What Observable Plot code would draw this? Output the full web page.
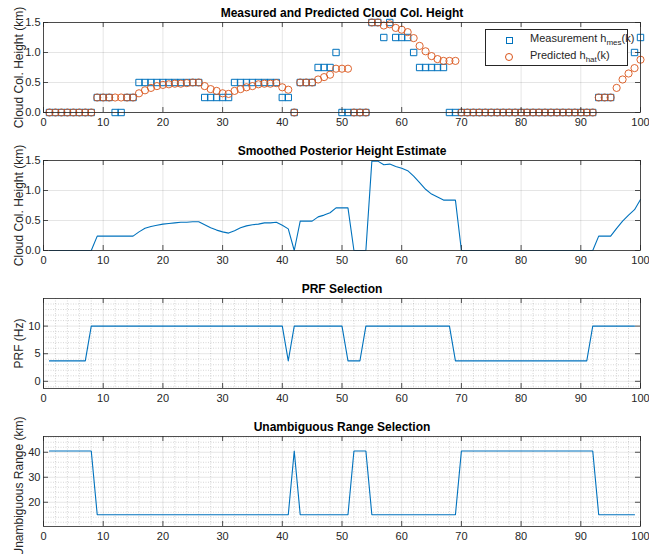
<!DOCTYPE html>
<html>
<head>
<meta charset="utf-8">
<script src="https://cdn.jsdelivr.net/npm/d3@7"></script>
<script src="https://cdn.jsdelivr.net/npm/@observablehq/plot@0.6"></script>
<style>
  body { margin: 0; background: #fff; font-family: "Liberation Sans", Arial, Helvetica, sans-serif; }
  #wrap { position: relative; width: 649px; height: 554px; overflow: hidden; background: #fff; }
  .panel { position: absolute; left: 0; }
  .panel svg { overflow: visible; background: transparent; }
  #legend { position: absolute; left: 485px; top: 29px; width: 143px; height: 37px; border: 0.8px solid #262626; background: #fff; box-sizing: border-box; color: #262626; font-size: 11px; }
  #legend .mk { position: absolute; box-sizing: border-box; }
  #legend .tx { position: absolute; white-space: nowrap; line-height: 13px; }
  #legend sub { font-size: 8px; vertical-align: -3px; line-height: 0; }
</style>
</head>
<body>
<div id="wrap"></div>
<script>
// ---------- data ----------
const k = [1,2,3,4,5,6,7,8,9,10,11,12,13,14,15,16,17,18,19,20,21,22,23,24,25,26,27,28,29,30,31,32,33,34,35,36,37,38,39,40,41,42,43,44,45,46,47,48,49,50,51,52,53,54,55,56,57,58,59,60,61,62,63,64,65,66,67,68,69,70,71,72,73,74,75,76,77,78,79,80,81,82,83,84,85,86,87,88,89,90,91,92,93,94,95,96,97,98,99,100];

const hMes = [
  0,0,0,0,0,0,0,0,0.25,0.25,
  0.25,0,0,0.25,0.25,0.5,0.5,0.5,0.5,0.5,
  0.5,0.5,0.5,0.5,0.5,0.5,0.25,0.25,0.25,0.25,
  0.25,0.5,0.5,0.5,0.5,0.5,0.5,0.5,0.5,0.25,
  0.25,0,0.5,0.5,0.5,0.75,0.75,0.75,1,0,
  0,0,0,0,1.5,1.5,1.25,1.5,1.25,1.25,
  1.25,1,0.75,0.75,0.75,0.75,0.75,0,0,0,
  0,0,0,0,0,0,0,0,0,0,
  0,0,0,0,0,0,0,0,0,0,
  0,0,0.25,0.25,0.25,null,null,null,1,1.25
];

const hHat = [
  0,0,0,0,0,0,0,0,0.25,0.25,
  0.25,0.25,0.25,0.25,0.25,0.32,0.37,0.41,0.44,0.46,
  0.47,0.48,0.48,0.49,0.5,0.5,0.44,0.39,0.36,0.32,
  0.31,0.36,0.39,0.42,0.44,0.47,0.48,0.48,0.49,0.42,
  0.38,0,0.5,0.5,0.5,0.55,0.59,0.63,0.73,0.73,
  0.73,0,0,0,1.5,1.5,1.45,1.47,1.41,1.38,
  1.34,1.24,1.11,1.02,0.94,0.89,0.86,0.86,0.86,0,
  0,0,0,0,0,0,0,0,0,0,
  0,0,0,0,0,0,0,0,0,0,
  0,0,0.25,0.25,0.25,0.41,0.55,0.65,0.74,0.88
];

const hSmooth = [
  0,0,0,0,0,0,0,0,0.24,0.24,
  0.24,0.24,0.24,0.24,0.24,0.31,0.37,0.4,0.42,0.44,
  0.45,0.46,0.47,0.47,0.48,0.48,0.43,0.38,0.34,0.31,
  0.29,0.33,0.38,0.41,0.43,0.44,0.46,0.46,0.47,0.42,
  0.36,0,0.49,0.49,0.49,0.56,0.59,0.63,0.71,0.71,
  0.71,0,0,0,1.49,1.49,1.43,1.44,1.4,1.37,
  1.33,1.24,1.13,1.02,0.94,0.89,0.84,0.84,0.84,0,
  0,0,0,0,0,0,0,0,0,0,
  0,0,0,0,0,0,0,0,0,0,
  0,0,0.24,0.24,0.24,0.37,0.49,0.59,0.68,0.85
];

const prf = [
  3.7,3.7,3.7,3.7,3.7,3.7,3.7,10,10,10,
  10,10,10,10,10,10,10,10,10,10,
  10,10,10,10,10,10,10,10,10,10,
  10,10,10,10,10,10,10,10,10,10,
  3.7,10,10,10,10,10,10,10,10,10,
  3.7,3.7,3.7,10,10,10,10,10,10,10,
  10,10,10,10,10,10,10,10,3.7,3.7,
  3.7,3.7,3.7,3.7,3.7,3.7,3.7,3.7,3.7,3.7,
  3.7,3.7,3.7,3.7,3.7,3.7,3.7,3.7,3.7,3.7,
  3.7,10,10,10,10,10,10,10,10
];

const rangeKm = [
  40.5,40.5,40.5,40.5,40.5,40.5,40.5,40.5,15,15,
  15,15,15,15,15,15,15,15,15,15,
  15,15,15,15,15,15,15,15,15,15,
  15,15,15,15,15,15,15,15,15,15,
  15,40.5,15,15,15,15,15,15,15,15,
  15,40.5,40.5,40.5,15,15,15,15,15,15,
  15,15,15,15,15,15,15,15,15,40.5,
  40.5,40.5,40.5,40.5,40.5,40.5,40.5,40.5,40.5,40.5,
  40.5,40.5,40.5,40.5,40.5,40.5,40.5,40.5,40.5,40.5,
  40.5,40.5,15,15,15,15,15,15,15
];

const titles = ["Measured and Predicted Cloud Col. Height", "Smoothed Posterior Height Estimate", "PRF Selection", "Unambiguous Range Selection"];
const yLabels = ["Cloud Col. Height (km)", "Cloud Col. Height (km)", "PRF (Hz)", "Unambiguous Range (km)"];
const legendNames = [["Measurement h", "mes", "(k)"], ["Predicted h", "hat", "(k)"]];

const xTicks = [0,10,20,30,40,50,60,70,80,90,100];
const xMinor = [2,4,6,8,12,14,16,18,22,24,26,28,32,34,36,38,42,44,46,48,52,54,56,58,62,64,66,68,72,74,76,78,82,84,86,88,92,94,96,98];
const hTicks = [0,0.5,1,1.5];
const prfTicks = [0,5,10];
const prfMinor = [-1,1,2,3,4,6,7,8,9,11,12,13,14];
const rTicks = [20,30,40];
const rMinor = [12,14,16,18,22,24,26,28,32,34,36,38,42,44,46];

// ---------- tables ----------
const rowsTop = k.map((kk, i) => ({k: kk, hMes: hMes[i], hHat: hHat[i], hSmooth: hSmooth[i]}));
const rowsSel = prf.map((p, i) => ({k: k[i], prf: p, range: rangeKm[i]}));

// ---------- styling ----------
const BLUE = "#0072BD", ORANGE = "#D95319", AX = "#262626";
const W = 649, ML = 43, MR = 9, MT = 22, MB = 20, PH = 90, PW = W - ML - MR;
const FONT = "'Liberation Sans', Arial, Helvetica, sans-serif";

function panel(top, idx, yDomain, yTicks, yMinor, dataMarks, minorGrid, labelShift) {
  const marks = [];
  if (minorGrid) {
    marks.push(Plot.gridX(xMinor, {stroke: "#000", strokeOpacity: 0.28, strokeWidth: 0.6, strokeDasharray: "1,1.5"}));
    marks.push(Plot.gridY(yMinor, {stroke: "#000", strokeOpacity: 0.28, strokeWidth: 0.6, strokeDasharray: "1,1.5"}));
  }
  marks.push(Plot.gridX(xTicks, {stroke: "#000", strokeOpacity: 0.13, strokeWidth: 0.8}));
  marks.push(Plot.gridY(yTicks, {stroke: "#000", strokeOpacity: 0.13, strokeWidth: 0.8}));
  marks.push(...dataMarks);
  marks.push(Plot.frame({stroke: AX, strokeWidth: 0.8}));
  marks.push(Plot.ruleX(xTicks, {x: d => d, insetTop: PH - 5, stroke: AX, strokeWidth: 0.8}));
  marks.push(Plot.ruleX(xTicks, {x: d => d, insetBottom: PH - 5, stroke: AX, strokeWidth: 0.8}));
  marks.push(Plot.ruleY(yTicks, {y: d => d, insetRight: PW - 5, stroke: AX, strokeWidth: 0.8}));
  marks.push(Plot.ruleY(yTicks, {y: d => d, insetLeft: PW - 5, stroke: AX, strokeWidth: 0.8}));
  marks.push(Plot.axisX(xTicks, {anchor: "bottom", tickSize: 0, tickPadding: 6, fontSize: 11, label: null, fill: AX}));
  marks.push(Plot.axisY(yTicks, {anchor: "left", tickSize: 0, tickPadding: 3, fontSize: 11, label: null, fill: AX}));
  marks.push(Plot.text([titles[idx]], {frameAnchor: "top", dy: -9, lineAnchor: "middle", textAnchor: "middle", fontWeight: "bold", fontSize: 12, fill: "#000"}));
  marks.push(Plot.text([yLabels[idx]], {frameAnchor: "left", rotate: -90, dx: -24, dy: labelShift || 0, textAnchor: "middle", lineAnchor: "middle", fontSize: 12, fill: AX}));

  const svg = Plot.plot({
    width: W, height: MT + PH + MB,
    marginTop: MT, marginBottom: MB, marginLeft: ML, marginRight: MR,
    style: {fontFamily: FONT, fontSize: "11px", color: AX, background: "transparent", overflow: "visible"},
    x: {domain: [0, 100]},
    y: {domain: yDomain},
    marks
  });
  const div = document.createElement("div");
  div.className = "panel";
  div.style.top = (top - MT) + "px";
  div.appendChild(svg);
  document.getElementById("wrap").appendChild(div);
}

// Panel 1: measured and predicted
panel(22, 0, [0, 1.5], hTicks, null, [
  Plot.dot(rowsTop.filter(d => d.hMes != null), {x: "k", y: "hMes", symbol: "square", r: 3.6, stroke: BLUE, strokeWidth: 1, fill: "none"}),
  Plot.dot(rowsTop, {x: "k", y: "hHat", symbol: "circle", r: 3.6, stroke: ORANGE, strokeWidth: 0.9, fill: "none"})
], false);

// Panel 2: smoothed
panel(160, 1, [0, 1.5], hTicks, null, [
  Plot.line(rowsTop, {x: "k", y: "hSmooth", stroke: BLUE, strokeWidth: 1.1})
], false);

// Panel 3: PRF
panel(298, 2, [-1.3, 15], prfTicks, prfMinor, [
  Plot.line(rowsSel, {x: "k", y: "prf", stroke: BLUE, strokeWidth: 1.1})
], true);

// Panel 4: range
panel(436, 3, [10.3, 46.3], rTicks, rMinor, [
  Plot.line(rowsSel, {x: "k", y: "range", stroke: BLUE, strokeWidth: 1.1})
], true, 5);

// Legend
const lg = document.createElement("div");
lg.id = "legend";
const mkStyles = [
  {left: "19.5px", top: "6.5px", width: "7px", height: "7px", border: "1px solid " + BLUE},
  {left: "19px", top: "23px", width: "8px", height: "8px", border: "0.9px solid " + ORANGE, borderRadius: "50%"}
];
legendNames.forEach((parts, i) => {
  const m = document.createElement("span");
  m.className = "mk";
  Object.assign(m.style, mkStyles[i]);
  lg.appendChild(m);
  const t = document.createElement("div");
  t.className = "tx";
  t.style.left = "44px";
  t.style.top = (i === 0 ? 2 : 19) + "px";
  t.appendChild(document.createTextNode(parts[0]));
  const s = document.createElement("sub");
  s.textContent = parts[1];
  t.appendChild(s);
  t.appendChild(document.createTextNode(parts[2]));
  lg.appendChild(t);
});
document.getElementById("wrap").appendChild(lg);
</script>
</body>
</html>
